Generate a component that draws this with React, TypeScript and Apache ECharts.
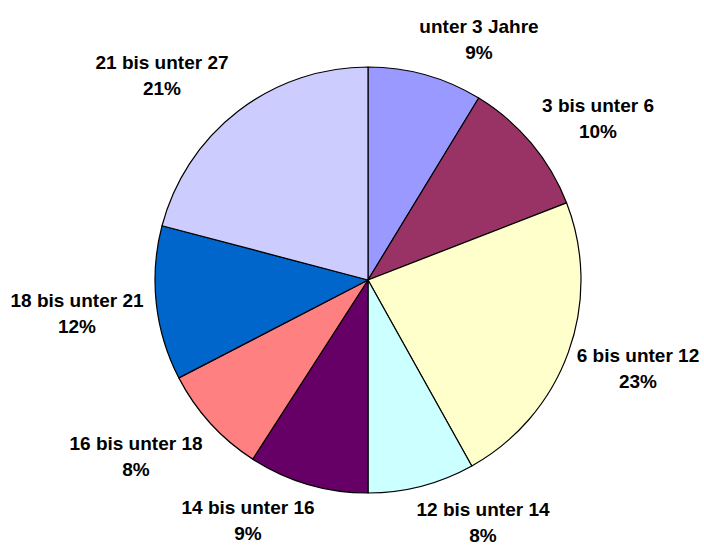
import React, { useEffect, useRef } from "react";
import * as echarts from "echarts";

const categories = [
  "unter 3 Jahre",
  "3 bis unter 6",
  "6 bis unter 12",
  "12 bis unter 14",
  "14 bis unter 16",
  "16 bis unter 18",
  "18 bis unter 21",
  "21 bis unter 27",
];
const values = [8.7, 10.4, 22.8, 8.1, 9.1, 8.3, 11.7, 20.9];
const colors = ["#9999FF", "#993366", "#FFFFCC", "#CCFFFF", "#660066", "#FF8080", "#0066CC", "#CCCCFF"];
// label centre positions (px), Excel-style placement
const labelCenters: [number, number][] = [
  [479, 39],
  [598, 118],
  [638, 368],
  [483, 522],
  [248, 520],
  [136, 456],
  [77, 313],
  [162, 75],
];

export default function App() {
  const ref = useRef<HTMLDivElement>(null);
  useEffect(() => {
    if (!ref.current) return;
    const chart = echarts.init(ref.current, undefined, { renderer: "svg" });
    chart.setOption({
      animation: false,
      backgroundColor: "#ffffff",
      series: [
        {
          type: "pie",
          center: [368, 280],
          radius: 213,
          startAngle: 90,
          clockwise: true,
          avoidLabelOverlap: false,
          data: categories.map((c, i) => ({
            name: c,
            value: values[i],
            itemStyle: { color: colors[i] },
          })),
          itemStyle: { borderColor: "#000000", borderWidth: 1.2 },
          label: {
            show: true,
            position: "outside",
            formatter: (p: any) => `${p.name}\n${Math.round(p.percent)}%`,
            fontFamily: "Liberation Sans, Arial, sans-serif",
            fontWeight: "bold",
            fontSize: 19,
            lineHeight: 26,
            color: "#000000",
            letterSpacing: -0.4,
            align: "center",
          },
          labelLine: { show: false },
          labelLayout: (p: any) => {
            const c = labelCenters[p.dataIndex];
            return {
              x: c[0],
              y: c[1],
              align: "center",
              verticalAlign: "middle",
            };
          },
          emphasis: { disabled: true },
        },
      ],
    });
    return () => chart.dispose();
  }, []);
  return (
    <div
      ref={ref}
      style={{ position: "absolute", left: 0, top: 0, width: 704, height: 545 }}
    />
  );
}
